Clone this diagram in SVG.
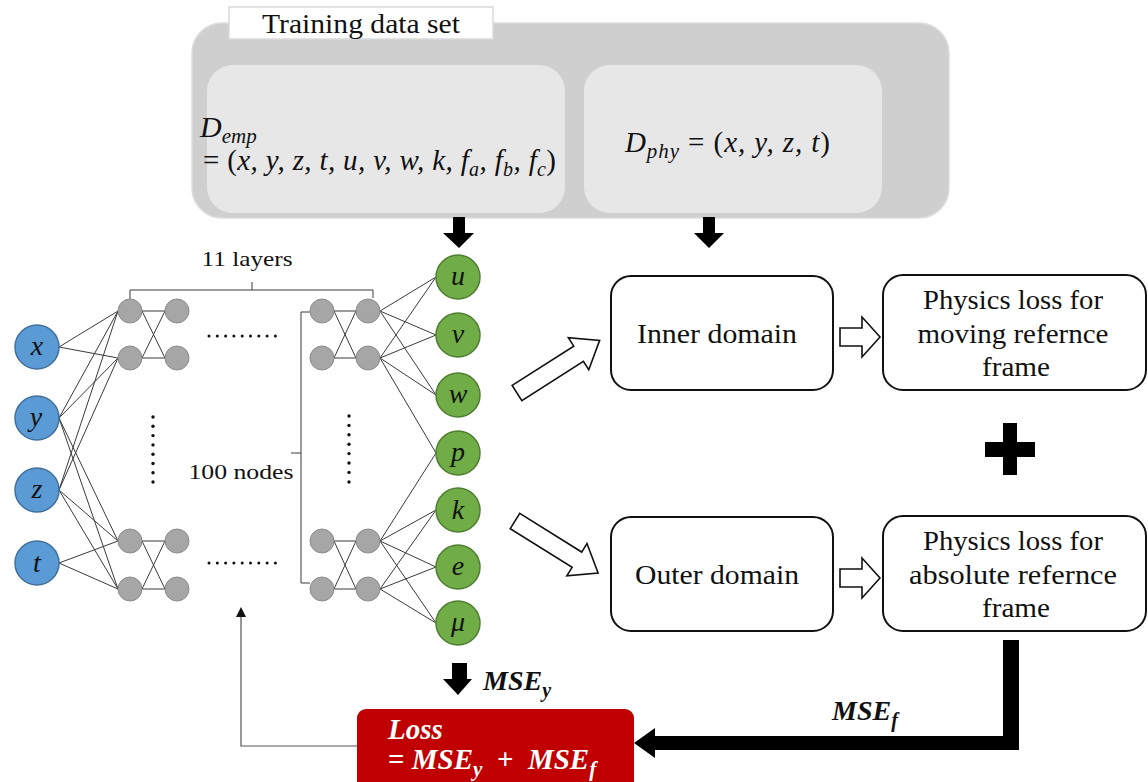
<svg xmlns="http://www.w3.org/2000/svg" width="1148" height="782" viewBox="0 0 1148 782">
  <defs>
    <style>
      .serif { font-family: "Liberation Serif", "Times New Roman", serif; fill: #111; }
      .math { font-family: "Liberation Serif", "Times New Roman", serif; font-style: italic; fill: #111; }
      .bmath { font-family: "Liberation Serif", "Times New Roman", serif; font-style: italic; font-weight: bold; fill: #111; }
      .edge { stroke: #3a3a3a; stroke-width: 1; fill: none; }
      .in { fill: #5B9BD5; stroke: #41719C; stroke-width: 1.5; }
      .out { fill: #70AD47; stroke: #507E32; stroke-width: 1.5; }
      .hid { fill: #A6A6A6; stroke: #8C8C8C; stroke-width: 1; }
      .box { fill: #fff; stroke: #111; stroke-width: 2; }
      .hollow { fill: #fff; stroke: #111; stroke-width: 1.6; stroke-linejoin: miter; }
      .dot { fill: #111; }
      .lbl { font-size: 28px; text-anchor: middle; }
      .box-text { font-size: 27px; text-anchor: middle; }
    </style>
  </defs>

  <!-- Training data set container -->
  <g id="training-data">
    <rect x="192" y="23" width="757" height="195" rx="30" fill="#D0CFD0" stroke="#DDDDDD" stroke-width="1.5"/>
    <rect x="229" y="7" width="264" height="32" fill="#fff" stroke="#DADADA" stroke-width="1.5"/>
    <text class="serif" x="361" y="33" font-size="27" text-anchor="middle" textLength="198" lengthAdjust="spacingAndGlyphs">Training data set</text>
  </g>

  <g id="d-emp">
    <rect x="207" y="65" width="358" height="148" rx="26" fill="#E7E7E8"/>
    <text class="math" x="200" y="137" font-size="30">D<tspan font-size="21" dy="6">emp</tspan></text>
    <text class="math" x="203" y="170" font-size="29" textLength="353" lengthAdjust="spacing"><tspan font-style="normal">= (</tspan>x, y, z, t, u, v, w, k, f<tspan font-size="20" dy="6">a</tspan><tspan dy="-6">, f</tspan><tspan font-size="20" dy="6">b</tspan><tspan dy="-6">, f</tspan><tspan font-size="20" dy="6">c</tspan><tspan dy="-6" font-style="normal">)</tspan></text>
  </g>

  <g id="d-phy">
    <rect x="584" y="65" width="298" height="148" rx="26" fill="#E7E7E8"/>
    <text class="math" x="625" y="152" font-size="29" textLength="205" lengthAdjust="spacing">D<tspan font-size="21" dy="6">phy</tspan><tspan dy="-6" font-style="normal"> = (</tspan>x, y, z, t<tspan font-style="normal">)</tspan></text>
  </g>

  <!-- Network annotations -->
  <g id="layers-bracket">
    <path class="edge" d="M130,300 V290 H373 V298 M252,290 V282"/>
    <text class="serif" x="247" y="266" font-size="21" text-anchor="middle" textLength="91" lengthAdjust="spacingAndGlyphs">11 layers</text>
  </g>
  <g id="nodes-bracket">
    <path class="edge" d="M310,312 H301 V583 H310 M301,453 H291"/>
    <text class="serif" x="241" y="479" font-size="21" text-anchor="middle" textLength="105" lengthAdjust="spacingAndGlyphs">100 nodes</text>
  </g>

  <g id="ellipsis-dots">
    <g class="dot">
      <circle cx="209" cy="336" r="1.5"/><circle cx="217.3" cy="336" r="1.5"/><circle cx="225.6" cy="336" r="1.5"/><circle cx="233.9" cy="336" r="1.5"/><circle cx="242.2" cy="336" r="1.5"/><circle cx="250.5" cy="336" r="1.5"/><circle cx="258.8" cy="336" r="1.5"/><circle cx="267.1" cy="336" r="1.5"/><circle cx="275.4" cy="336" r="1.5"/>
      <circle cx="209" cy="563" r="1.5"/><circle cx="217.3" cy="563" r="1.5"/><circle cx="225.6" cy="563" r="1.5"/><circle cx="233.9" cy="563" r="1.5"/><circle cx="242.2" cy="563" r="1.5"/><circle cx="250.5" cy="563" r="1.5"/><circle cx="258.8" cy="563" r="1.5"/><circle cx="267.1" cy="563" r="1.5"/><circle cx="275.4" cy="563" r="1.5"/>
      <circle cx="153" cy="417" r="1.7"/><circle cx="153" cy="426.3" r="1.7"/><circle cx="153" cy="435.6" r="1.7"/><circle cx="153" cy="444.9" r="1.7"/><circle cx="153" cy="454.2" r="1.7"/><circle cx="153" cy="463.5" r="1.7"/><circle cx="153" cy="472.8" r="1.7"/><circle cx="153" cy="482" r="1.7"/>
      <circle cx="349" cy="416" r="1.7"/><circle cx="349" cy="425.4" r="1.7"/><circle cx="349" cy="434.8" r="1.7"/><circle cx="349" cy="444.2" r="1.7"/><circle cx="349" cy="453.6" r="1.7"/><circle cx="349" cy="463" r="1.7"/><circle cx="349" cy="472.4" r="1.7"/><circle cx="349" cy="482" r="1.7"/>
    </g>
  </g>

  <!-- Connectors -->
  <g id="connectors">
    <!-- inputs to first hidden layer -->
    <path class="edge" d="M59,347 L118,311 M59,347 L118,358
      M59,418 L118,311 M59,418 L118,358 M59,418 L118,541 M59,418 L118,589
      M59,490 L118,311 M59,490 L118,358 M59,490 L118,541 M59,490 L118,589
      M59,563 L118,541 M59,563 L118,589"/>
    <!-- hidden layer 1 to 2 -->
    <path class="edge" d="M142,311 L165,311 M142,358 L165,358 M142,311 L165,358 M142,358 L165,311
      M142,541 L165,541 M142,589 L165,589 M142,541 L165,589 M142,589 L165,541"/>
    <!-- hidden layer 10 to 11 -->
    <path class="edge" d="M334,311 L356,311 M334,358 L356,358 M334,311 L356,358 M334,358 L356,311
      M334,541 L356,541 M334,589 L356,589 M334,541 L356,589 M334,589 L356,541"/>
    <!-- last hidden layer to outputs -->
    <path class="edge" d="M380,311 L436,277 M380,311 L436,335 M380,311 L436,395
      M380,358 L436,277 M380,358 L436,335 M380,358 L436,395 M380,358 L436,453
      M380,541 L436,453 M380,541 L436,510 M380,541 L436,567 M380,541 L436,623
      M380,589 L436,510 M380,589 L436,567 M380,589 L436,623"/>

    <!-- data flow arrows -->
    <path d="M453,217 H465 V233 H474 L459,248 L443,233 H453 Z" fill="#000"/>
    <path d="M703,217 H715 V233 H724 L709,248 L694,233 H703 Z" fill="#000"/>
    <path d="M452,663 H467 V679 H472 L458,695 L443,679 H452 Z" fill="#000"/>

    <polygon class="hollow" transform="translate(517,393) rotate(-32.5)" points="0,-9 73,-9 73,-19 98,0 73,19 73,9 0,9"/>
    <polygon class="hollow" transform="translate(515,521) rotate(32)" points="0,-9 73,-9 73,-19 98,0 73,19 73,9 0,9"/>
    <polygon class="hollow" points="840,328 862,328 862,317 880,337 862,357 862,346 840,346"/>
    <polygon class="hollow" points="840,569 862,569 862,558 880,578 862,598 862,587 840,587"/>

    <!-- physics loss feeds into total loss -->
    <path d="M1003,640 H1019 V750 H655 V758 L634,743 L655,728 V736 H1003 Z" fill="#000"/>
    <!-- loss feeds back into the network -->
    <path d="M357,746 H241 V616" fill="none" stroke="#555" stroke-width="1.2"/>
    <polygon points="241,607 236,617 246,617" fill="#111"/>
  </g>

  <!-- Input nodes -->
  <g id="input-x"><circle class="in" cx="37" cy="347" r="22"/><text class="math lbl" x="37" y="355">x</text></g>
  <g id="input-y"><circle class="in" cx="37" cy="418" r="22"/><text class="math lbl" x="36" y="426">y</text></g>
  <g id="input-z"><circle class="in" cx="37" cy="490" r="22"/><text class="math lbl" x="37" y="498">z</text></g>
  <g id="input-t"><circle class="in" cx="37" cy="563" r="22"/><text class="math lbl" x="37" y="572">t</text></g>

  <!-- Hidden nodes -->
  <g id="hidden-first">
    <circle class="hid" cx="130" cy="311" r="12"/><circle class="hid" cx="130" cy="358" r="12"/>
    <circle class="hid" cx="130" cy="541" r="12"/><circle class="hid" cx="130" cy="589" r="12"/>
  </g>
  <g id="hidden-second">
    <circle class="hid" cx="177" cy="311" r="12"/><circle class="hid" cx="177" cy="358" r="12"/>
    <circle class="hid" cx="177" cy="541" r="12"/><circle class="hid" cx="177" cy="589" r="12"/>
  </g>
  <g id="hidden-tenth">
    <circle class="hid" cx="322" cy="311" r="12"/><circle class="hid" cx="322" cy="358" r="12"/>
    <circle class="hid" cx="322" cy="541" r="12"/><circle class="hid" cx="322" cy="589" r="12"/>
  </g>
  <g id="hidden-last">
    <circle class="hid" cx="368" cy="311" r="12"/><circle class="hid" cx="368" cy="358" r="12"/>
    <circle class="hid" cx="368" cy="541" r="12"/><circle class="hid" cx="368" cy="589" r="12"/>
  </g>

  <!-- Output nodes -->
  <g id="out-u"><circle class="out" cx="458" cy="277" r="22"/><text class="math lbl" x="458" y="285">u</text></g>
  <g id="out-v"><circle class="out" cx="458" cy="335" r="22"/><text class="math lbl" x="458" y="343">v</text></g>
  <g id="out-w"><circle class="out" cx="458" cy="395" r="22"/><text class="math lbl" x="458" y="403">w</text></g>
  <g id="out-p"><circle class="out" cx="458" cy="453" r="22"/><text class="math lbl" x="458" y="461">p</text></g>
  <g id="out-k"><circle class="out" cx="458" cy="510" r="22"/><text class="math lbl" x="458" y="519">k</text></g>
  <g id="out-e"><circle class="out" cx="458" cy="567" r="22"/><text class="math lbl" x="458" y="575">e</text></g>
  <g id="out-mu"><circle class="out" cx="458" cy="623" r="22"/><text class="math lbl" x="458" y="631">μ</text></g>

  <!-- Domain boxes -->
  <g id="inner-domain">
    <rect class="box" x="611" y="276" width="222" height="114" rx="20"/>
    <text class="serif box-text" x="717" y="343" textLength="160" lengthAdjust="spacingAndGlyphs">Inner domain</text>
  </g>
  <g id="outer-domain">
    <rect class="box" x="611" y="517" width="222" height="114" rx="20"/>
    <text class="serif box-text" x="717" y="584" textLength="164" lengthAdjust="spacingAndGlyphs">Outer domain</text>
  </g>
  <g id="physics-moving">
    <rect class="box" x="883" y="275" width="263" height="115" rx="20"/>
    <text class="serif box-text" x="1013" y="309" textLength="180" lengthAdjust="spacingAndGlyphs">Physics loss for</text>
    <text class="serif box-text" x="1013" y="343" textLength="191" lengthAdjust="spacingAndGlyphs">moving refernce</text>
    <text class="serif box-text" x="1016" y="376" textLength="68" lengthAdjust="spacingAndGlyphs">frame</text>
  </g>
  <g id="physics-absolute">
    <rect class="box" x="883" y="516" width="263" height="115" rx="20"/>
    <text class="serif box-text" x="1013" y="550" textLength="180" lengthAdjust="spacingAndGlyphs">Physics loss for</text>
    <text class="serif box-text" x="1013" y="584" textLength="208" lengthAdjust="spacingAndGlyphs">absolute refernce</text>
    <text class="serif box-text" x="1016" y="617" textLength="68" lengthAdjust="spacingAndGlyphs">frame</text>
  </g>

  <g id="plus">
    <rect x="1003" y="423" width="14" height="52" fill="#000"/>
    <rect x="985" y="442" width="50" height="15" fill="#000"/>
  </g>

  <!-- Loss terms -->
  <g id="mse-y-label">
    <text class="bmath" x="483" y="690" font-size="28">MSE<tspan font-size="20" dy="7">y</tspan></text>
  </g>
  <g id="mse-f-label">
    <text class="bmath" x="832" y="720" font-size="28">MSE<tspan font-size="20" dy="7">f</tspan></text>
  </g>

  <g id="loss">
    <rect x="357" y="709" width="277" height="90" rx="9" fill="#C00000"/>
    <text class="bmath" x="388" y="739" font-size="29" style="fill:#fff">Loss</text>
    <text class="bmath" x="388" y="769" font-size="29" style="fill:#fff"><tspan font-style="normal">= </tspan>MSE<tspan font-size="21" dy="7">y</tspan><tspan dy="-7" font-style="normal" xml:space="preserve">  +  </tspan>MSE<tspan font-size="21" dy="7">f</tspan></text>
  </g>
</svg>
